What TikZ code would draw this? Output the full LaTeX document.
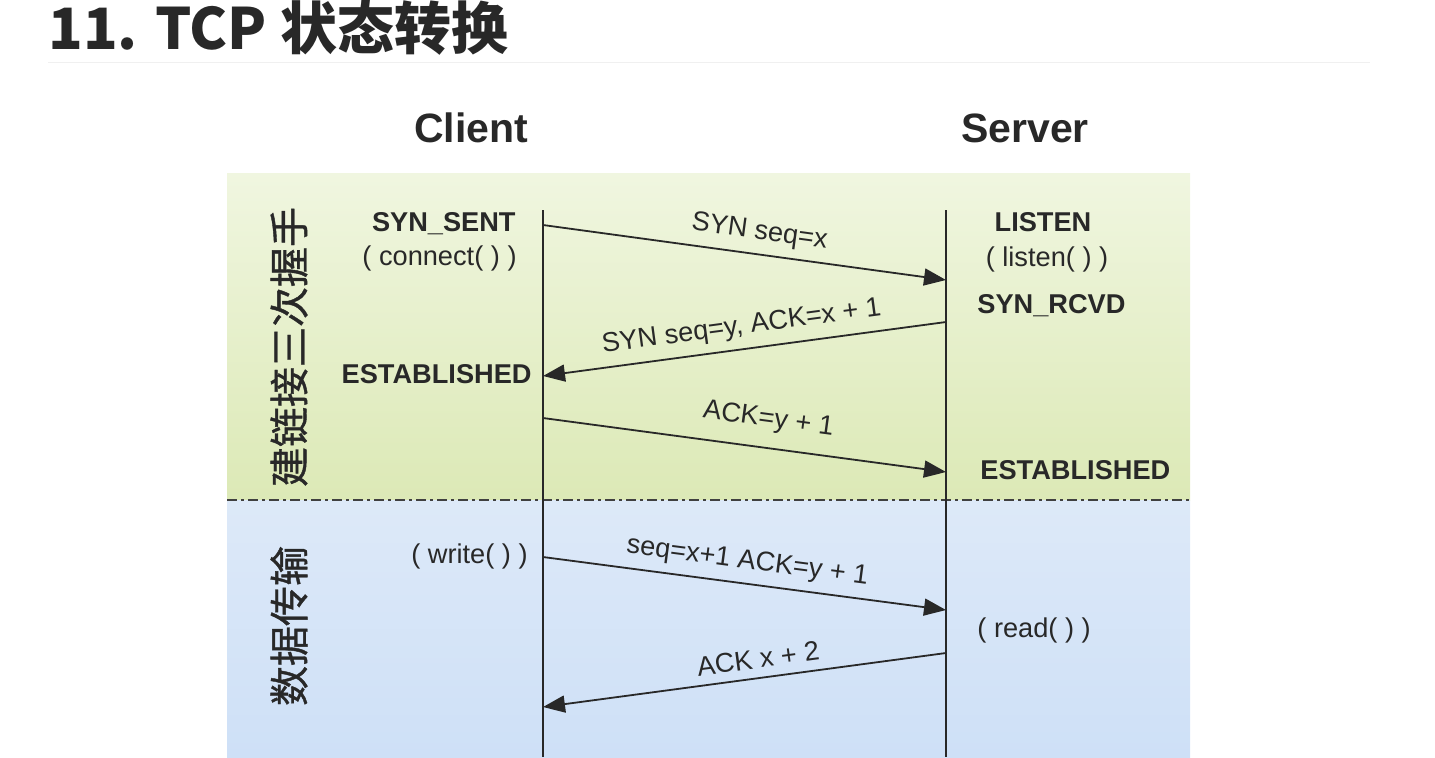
\documentclass[tikz,border=0pt]{standalone}
\usepackage{fontspec}
\setmainfont{Liberation Sans}
\newfontfamily\cjk{Noto Sans CJK SC}
\newfontfamily\cjkside[FakeBold=1]{Noto Sans CJK SC}
\usetikzlibrary{arrows.meta}

\definecolor{greentop}{RGB}{240,246,224}
\definecolor{greenbot}{RGB}{220,233,182}
\definecolor{bluetop}{RGB}{221,233,248}
\definecolor{bluebot}{RGB}{206,224,247}
\definecolor{ink}{RGB}{40,40,40}

\begin{document}
\begin{tikzpicture}[x=0.5pt, y=-0.5pt,
		state/.style={inner sep=0, text=ink, font=\fontsize{13.6}{15}\selectfont\bfseries},
		call/.style={inner sep=0, text=ink, font=\fontsize{13.6}{15}\selectfont},
		msg/.style={line width=0.9pt, draw=ink, -{Triangle[length=11pt, width=8.5pt]}},
		lbl/.style={sloped, above=1pt, text=ink, font=\fontsize{13.6}{15}\selectfont}]
		\useasboundingbox (0,0) rectangle (1435,757);
		% title
		\node[inner sep=0, anchor=base west, text=ink, font=\cjk\bfseries\fontsize{28.5}{32}\selectfont] (title) at (48,49) {11. TCP 状态转换};
		\draw[line width=0.5pt, black!6] (48,62) -- (1370,62);
		% panels
		\shade[top color=greentop, bottom color=greenbot] (227,173) rectangle (1190,500);
		\shade[top color=bluetop, bottom color=bluebot] (227,500) rectangle (1190,757);
		\draw[line width=1pt, black!75, dash pattern=on 5pt off 2pt on 1.5pt off 2pt] (227,500) -- (1190,500);
		\node[rotate=90, inner sep=0, text=ink, font=\cjkside\fontsize{20}{22}\selectfont] (hand) at (289,347) {建链接三次握手};
		\node[rotate=90, inner sep=0, text=ink, font=\cjkside\fontsize{20}{22}\selectfont] (data) at (289,626) {数据传输};
		% lifelines
		\node[inner sep=0, anchor=base, text=ink, font=\fontsize{20.5}{24}\selectfont\bfseries] (client) at (471,142) {Client};
		\node[inner sep=0, anchor=base, text=ink, font=\fontsize{20.5}{24}\selectfont\bfseries] (server) at (1025,142) {Server};
		\coordinate (ctop) at (543,210);
		\coordinate (cbot) at (543,757);
		\coordinate (stop) at (946,210);
		\coordinate (sbot) at (946,757);
		\draw[line width=1pt, ink] (ctop) -- (cbot);
		\draw[line width=1pt, ink] (stop) -- (sbot);
		% states
		\node[state, anchor=base east] (synsent) at (516,231) {SYN\_SENT};
		\node[call, anchor=base east] (connect) at (517,265) {( connect( ) )};
		\node[state, anchor=base east] (estc) at (532,383) {ESTABLISHED};
		\node[call, anchor=base east] (write) at (528,563) {( write( ) )};
		\node[state, anchor=base] (listen) at (1043,231) {LISTEN};
		\node[call, anchor=base] (listenc) at (1047,266) {( listen( ) )};
		\node[state, anchor=base west] (synrcvd) at (977,313) {SYN\_RCVD};
		\node[state, anchor=base west] (ests) at (980,479) {ESTABLISHED};
		\node[call, anchor=base west] (read) at (977,637) {( read( ) )};
		% messages
		\coordinate (c1) at (543,225);
		\coordinate (s1) at (946,280);
		\coordinate (s2) at (946,322);
		\coordinate (c2) at (543,376);
		\coordinate (c3) at (543,418);
		\coordinate (s3) at (946,472);
		\coordinate (c4) at (543,557);
		\coordinate (s4) at (946,610);
		\coordinate (s5) at (946,653);
		\coordinate (c5) at (543,707);
		\draw[msg] (c1) -- node[lbl, pos=0.53]{SYN seq=x} (s1);
		\draw[msg] (s2) -- node[lbl, pos=0.5]{SYN seq=y, ACK=x + 1} (c2);
		\draw[msg] (c3) -- node[lbl, pos=0.55, above=3pt]{ACK=y + 1} (s3);
		\draw[msg] (c4) -- node[lbl, pos=0.5]{seq=x+1 ACK=y + 1} (s4);
		\draw[msg] (s5) -- node[lbl, pos=0.46, above=0pt]{ACK x + 2} (c5);
	\end{tikzpicture}
\end{document}
